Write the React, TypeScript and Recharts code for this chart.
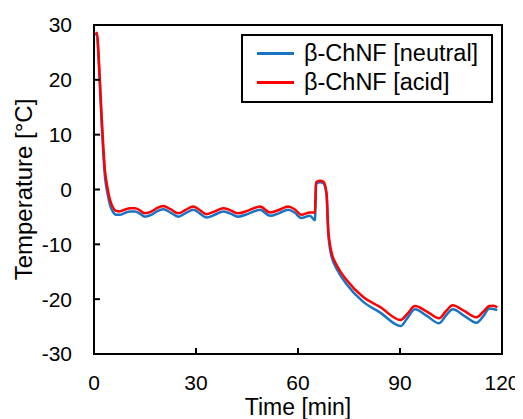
import React from 'react';
import { LineChart, Line, XAxis, YAxis } from 'recharts';

// time axis shared by both runs (min)
const TIME = [
  0.5, 0.9, 1.3, 2.3, 3.2, 4.0, 4.7, 5.5, 6.5, 7.6, 9, 10.6, 12.1, 13.5, 15, 17,
  18.5, 20.4, 22.5, 24.8, 27, 29.2, 31, 33.1, 35.5, 38, 40, 42.4, 45.5, 48.8,
  51.8, 54.5, 57.1, 59, 61, 63.5, 65, 65.3, 66.5, 67.5, 68.4, 68.9, 69.4, 69.9,
  71.4, 74.3, 79.2, 84.1, 90.2, 92, 94.4, 98, 101.5, 103.5, 105.5, 109, 112.5,
  114.5, 116.3, 117.5, 118.6,
];

const NEUTRAL = [
  28.0, 28.3, 24.5, 11.5, 2.5, -0.8, -2.8, -4.0, -4.6, -4.6, -4.3, -4.0, -4.0,
  -4.4, -4.95, -4.6, -4.0, -3.6, -4.2, -4.95, -4.3, -3.7, -4.3, -5.1, -4.6, -4.0,
  -4.35, -4.95, -4.4, -3.7, -4.8, -4.3, -3.7, -4.2, -5.2, -4.8, -5.6, 1.0, 1.3,
  1.1, -1.0, -8.0, -10.8, -12.3, -14.5, -17.3, -20.5, -22.4, -24.9, -23.6,
  -21.85, -23.1, -24.4, -23.0, -21.85, -23.1, -24.3, -23.1, -21.7, -21.8, -22.0,
];

const ACID = [
  28.3, 28.6, 25.0, 12.7, 3.6, 0.2, -1.9, -3.2, -3.9, -4.0, -3.7, -3.4, -3.4,
  -3.8, -4.35, -4.0, -3.4, -3.0, -3.6, -4.35, -3.7, -3.1, -3.7, -4.5, -4.0, -3.4,
  -3.75, -4.35, -3.8, -3.1, -4.2, -3.7, -3.1, -3.6, -4.6, -4.2, -4.2, 1.3, 1.6,
  1.4, -0.7, -7.4, -10.0, -11.6, -13.8, -16.5, -19.6, -21.4, -23.8, -22.8,
  -21.25, -22.3, -23.5, -22.2, -21.1, -22.2, -23.3, -22.3, -21.25, -21.2, -21.5,
];

const X_TICKS = [0, 30, 60, 90, 120];
const Y_TICKS = [-30, -20, -10, 0, 10, 20, 30];

const SERIES = [
  { key: 'neutral', name: 'β-ChNF [neutral]', color: '#1a74c4' },
  { key: 'acid', name: 'β-ChNF [acid]', color: '#ff0000' },
];

const data = TIME.map((t, i) => ({ t, neutral: NEUTRAL[i], acid: ACID[i] }));

const FONT = "Arial, 'Liberation Sans', sans-serif";
const AXIS_LINE = { stroke: '#000', strokeWidth: 2 };

// chart geometry
const W = 523;
const H = 419;
const MARGIN = { top: 25, right: 21, left: 0, bottom: 0 };
const Y_AXIS_W = 94;
const X_AXIS_H = 65;

function YTitle({ viewBox }: any) {
  const cx = viewBox.x + 32;
  const cy = viewBox.y + viewBox.height / 2;
  return (
    <text
      x={cx}
      y={cy}
      transform={`rotate(-90 ${cx} ${cy})`}
      textAnchor="middle"
      fontSize={24}
      fontFamily={FONT}
      fill="#000"
    >
      Temperature [°C]
    </text>
  );
}

function XTitle({ viewBox }: any) {
  return (
    <text
      x={viewBox.x + viewBox.width / 2}
      y={viewBox.y + 61}
      textAnchor="middle"
      fontSize={23}
      fontFamily={FONT}
      fill="#000"
    >
      Time [min]
    </text>
  );
}

function LegendBox() {
  return (
    <div
      style={{
        position: 'absolute',
        left: 241,
        top: 34,
        boxSizing: 'border-box',
        width: 252,
        height: 69,
        border: '2px solid #000',
        background: '#fff',
        padding: '3px 0 0 14px',
        fontFamily: FONT,
        fontSize: 23.5,
        color: '#000',
        whiteSpace: 'nowrap',
      }}
    >
      {SERIES.map((s) => (
        <div key={s.key} style={{ display: 'flex', alignItems: 'center', height: 29 }}>
          <span
            style={{
              display: 'inline-block',
              width: 37,
              height: 2.5,
              background: s.color,
              marginRight: 10,
            }}
          />
          <span>{s.name}</span>
        </div>
      ))}
    </div>
  );
}

export default function App() {
  const plotLeft = MARGIN.left + Y_AXIS_W;
  const plotTop = MARGIN.top;
  const plotW = W - MARGIN.right - plotLeft;
  const plotH = H - MARGIN.bottom - X_AXIS_H - plotTop;
  return (
    <div style={{ position: 'relative', margin: '-8px 0 0 -8px', width: W, height: H, background: '#fff' }}>
      <LineChart width={W} height={H} data={data} margin={MARGIN}>
        <XAxis
          dataKey="t"
          type="number"
          domain={[0, 120]}
          ticks={X_TICKS}
          height={X_AXIS_H}
          tickSize={-6}
          tickMargin={27}
          axisLine={AXIS_LINE}
          tickLine={AXIS_LINE}
          tick={{ fill: '#000', fontSize: 21, fontFamily: FONT }}
          label={<XTitle />}
        />
        <YAxis
          type="number"
          domain={[-30, 30]}
          ticks={Y_TICKS}
          width={Y_AXIS_W}
          tickSize={-6}
          tickMargin={28}
          axisLine={AXIS_LINE}
          tickLine={AXIS_LINE}
          tick={{ fill: '#000', fontSize: 21, fontFamily: FONT }}
          label={<YTitle />}
        />
        {SERIES.map((s) => (
          <Line
            key={s.key}
            dataKey={s.key}
            name={s.name}
            stroke={s.color}
            strokeWidth={2.5}
            dot={false}
            type="monotone"
            isAnimationActive={false}
          />
        ))}
      </LineChart>
      {/* plot frame drawn as a separate overlay */}
      <svg
        width={W}
        height={H}
        style={{ position: 'absolute', left: 0, top: 0, pointerEvents: 'none' }}
      >
        <rect
          x={plotLeft}
          y={plotTop}
          width={plotW}
          height={plotH}
          fill="none"
          stroke="#000"
          strokeWidth={2}
        />
      </svg>
      <LegendBox />
    </div>
  );
}
